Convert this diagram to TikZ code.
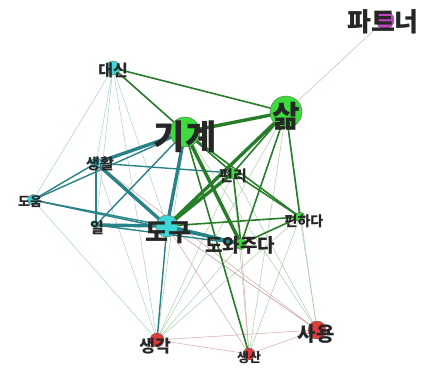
\documentclass[tikz,border=0pt]{standalone}
\usepackage{fontspec}
\newfontfamily\kr{Noto Sans CJK KR}
\definecolor{gdark}{RGB}{40,125,40}
\definecolor{tdark}{RGB}{40,130,135}
\definecolor{rlight}{RGB}{215,165,165}
\definecolor{ncyan}{RGB}{60,215,215}
\definecolor{ngreen}{RGB}{60,220,60}
\definecolor{nred}{RGB}{225,60,60}
\definecolor{nmag}{RGB}{195,65,195}
\tikzset{
  dot/.style={circle,inner sep=0pt,draw=black!60,line width=0.4pt},
  cy/.style={dot,fill=ncyan},
  gr/.style={dot,fill=ngreen},
  rd/.style={dot,fill=nred},
  mg/.style={dot,fill=nmag},
  lab/.style={font=\kr\bfseries,text=black!85,inner sep=0pt},
  gthick/.style={draw=gdark,line width=3.4pt},
  gmed/.style={draw=gdark,line width=1.6pt},
  gthin/.style={draw=gdark!40,line width=0.5pt},
  tthick/.style={draw=tdark,line width=3.4pt},
  tmed/.style={draw=tdark,line width=1.4pt},
  tthin/.style={draw=tdark!40,line width=0.5pt},
  rthin/.style={draw=rlight,line width=0.5pt},
}
\begin{document}
\begin{tikzpicture}[x=1pt,y=-1pt]
\useasboundingbox (0,0) rectangle (438,367);
% node anchors
\coordinate (daesin) at (113,68);
\coordinate (gigye) at (185,132);
\coordinate (salm) at (286,112);
\coordinate (partner) at (385,20);
\coordinate (saenghwal) at (96,163);
\coordinate (pyeonri) at (233,173);
\coordinate (doum) at (33,200);
\coordinate (il) at (96,225);
\coordinate (dogu) at (167,226);
\coordinate (pyeonhada) at (300,217);
\coordinate (dowa) at (241,244);
\coordinate (saenggak) at (157,340);
\coordinate (sayong) at (317,330);
\coordinate (saengsan) at (249,354);
% thin edges
\draw[tthin] (daesin) -- (saenghwal);
\draw[tthin] (daesin) -- (doum);
\draw[tthin] (daesin) -- (il);
\draw[tthin] (daesin) -- (dogu);
\draw[tthin] (daesin) -- (saenggak);
\draw[tthin] (daesin) -- (pyeonri);
\draw[tthin] (doum) -- (saenggak);
\draw[tthin] (saenghwal) -- (saenggak);
\draw[tthin] (dogu) -- (sayong);
\draw[gthin] (salm) -- (partner);
\draw[gthin] (saenggak) -- (pyeonri);
\draw[gthin] (saenggak) -- (dowa);
\draw[gthin] (saenggak) -- (pyeonhada);
\draw[gthin] (saenggak) -- (salm);
\draw[gthin] (saenggak) -- (gigye);
\draw[gthin] (sayong) -- (pyeonri);
\draw[gthin] (sayong) -- (gigye);
\draw[gthin] (sayong) -- (pyeonhada);
\draw[gthin] (sayong) -- (salm);
\draw[gthin] (saengsan) -- (pyeonhada);
\draw[gthin] (saengsan) -- (pyeonri);
\draw[gthin] (saengsan) -- (salm);
\draw[rthin] (saenggak) -- (sayong);
\draw[rthin] (saenggak) -- (saengsan);
\draw[rthin] (sayong) -- (saengsan);
\draw[rthin] (dogu) -- (saengsan);
\draw[rthin] (dowa) -- (saengsan);
\draw[rthin] (dogu) -- (sayong);
\draw[rthin] (saenghwal) -- (sayong);
% medium edges
\draw[gmed] (daesin) -- (salm);
\draw[gmed] (daesin) -- (gigye);
\draw[gmed] (gigye) -- (pyeonri);
\draw[gmed] (gigye) -- (pyeonhada);
\draw[gmed] (gigye) -- (saengsan);
\draw[gmed] (salm) -- (pyeonri);
\draw[gmed] (salm) -- (dowa);
\draw[gmed] (salm) -- (pyeonhada);
\draw[gmed] (pyeonri) -- (dowa);
\draw[gmed] (pyeonri) -- (pyeonhada);
\draw[gmed] (dowa) -- (pyeonhada);
\draw[gmed] (dogu) -- (pyeonhada);
\draw[tmed] (saenghwal) -- (doum);
\draw[tmed] (saenghwal) -- (il);
\draw[tmed] (saenghwal) -- (pyeonri);
\draw[tmed] (doum) -- (dogu);
\draw[tmed] (doum) -- (gigye);
\draw[tmed] (doum) -- (dowa);
\draw[tmed] (il) -- (gigye);
\draw[tmed] (il) -- (dowa);
\draw[tmed] (dogu) -- (saenggak);
% thick edges
\draw[gthick] (gigye) -- (salm);
\draw[gthick] (gigye) -- (dowa);
\draw[gthick] (dogu) -- (salm);
\draw[gthick] (dogu) -- (pyeonri);
\draw[tthick] (gigye) -- (dogu);
\draw[tthick] (dogu) -- (dowa);
\draw[tthick] (saenghwal) -- (gigye);
\draw[tthick] (saenghwal) -- (dogu);
\draw[tthick] (il) -- (dogu);
% nodes
\node[cy,minimum size=14pt] (nDaesin) at (daesin) {};
\node[gr,minimum size=30pt] (nGigye) at (gigye) {};
\node[gr,minimum size=32pt] (nSalm) at (salm) {};
\node[mg,minimum size=18pt] (nPartner) at (partner) {};
\node[cy,minimum size=11pt] (nSaenghwal) at (saenghwal) {};
\node[gr,minimum size=11pt] (nPyeonri) at (pyeonri) {};
\node[cy,minimum size=11pt] (nDoum) at (doum) {};
\node[cy,minimum size=6pt] (nIl) at (il) {};
\node[cy,minimum size=22pt] (nDogu) at (dogu) {};
\node[gr,minimum size=10pt] (nPyeonhada) at (pyeonhada) {};
\node[gr,minimum size=11pt] (nDowa) at (dowa) {};
\node[rd,minimum size=14pt] (nSaenggak) at (saenggak) {};
\node[rd,minimum size=18pt] (nSayong) at (sayong) {};
\node[rd,minimum size=12pt] (nSaengsan) at (saengsan) {};
% labels
\node[lab,font=\kr\bfseries\fontsize{16}{16}\selectfont] (tDaesin) at (113,70) {대신};
\node[lab,font=\kr\bfseries\fontsize{34}{34}\selectfont] (tGigye) at (185,137) {기계};
\node[lab,font=\kr\bfseries\fontsize{30}{30}\selectfont] (tSalm) at (286,116) {삶};
\node[lab,font=\kr\bfseries\fontsize{26}{26}\selectfont] (tPartner) at (383,22) {파트너};
\node[lab,font=\kr\bfseries\fontsize{15}{15}\selectfont] (tSaenghwal) at (100,164) {생활};
\node[lab,font=\kr\bfseries\fontsize{15}{15}\selectfont] (tPyeonri) at (233,176) {편리};
\node[lab,font=\kr\bfseries\fontsize{13}{13}\selectfont] (tDoum) at (30,202) {도움};
\node[lab,font=\kr\bfseries\fontsize{15}{15}\selectfont] (tIl) at (97,228) {일};
\node[lab,font=\kr\bfseries\fontsize{25}{25}\selectfont] (tDogu) at (168,233) {도구};
\node[lab,font=\kr\bfseries\fontsize{14}{14}\selectfont] (tPyeonhada) at (304,221) {편하다};
\node[lab,font=\kr\bfseries\fontsize{19}{19}\selectfont] (tDowa) at (240,245) {도와주다};
\node[lab,font=\kr\bfseries\fontsize{17}{17}\selectfont] (tSaenggak) at (155,346) {생각};
\node[lab,font=\kr\bfseries\fontsize{20}{20}\selectfont] (tSayong) at (316,334) {사용};
\node[lab,font=\kr\bfseries\fontsize{13}{13}\selectfont] (tSaengsan) at (249,358) {생산};
\end{tikzpicture}
\end{document}
